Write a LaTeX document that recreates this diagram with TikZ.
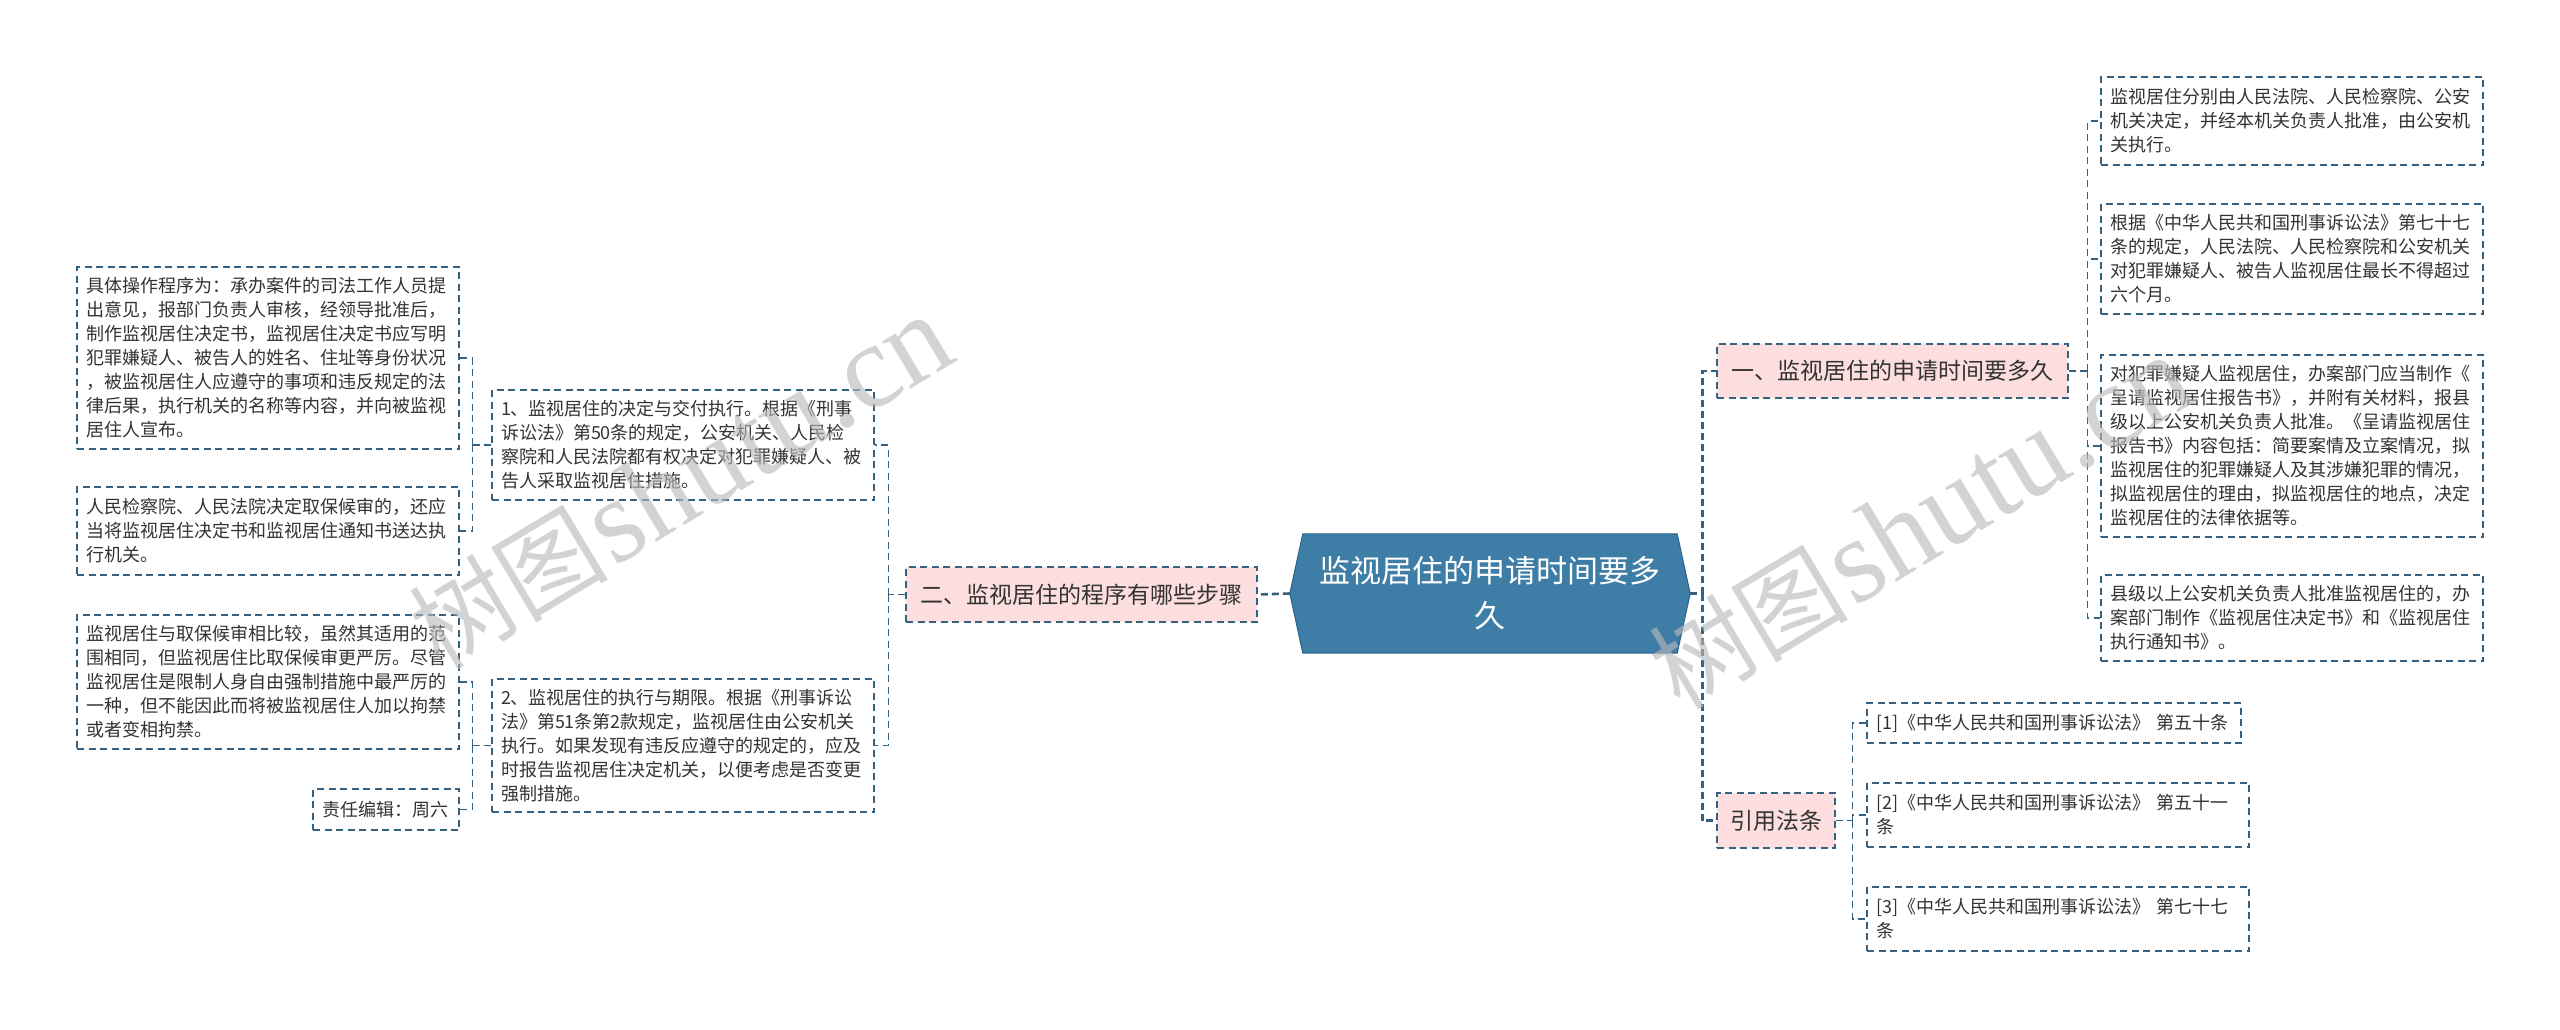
\documentclass[tikz,border=0pt]{standalone}
\usepackage{fontspec}
\usetikzlibrary{calc}
\newfontfamily\cjk{Noto Sans CJK SC}
\newfontfamily\wmserif{Liberation Serif}
\definecolor{linec}{RGB}{52,98,128}
\definecolor{pinkf}{RGB}{252,222,222}
\definecolor{cenf}{RGB}{62,125,166}
\definecolor{cend}{RGB}{45,100,140}
\definecolor{wmc}{RGB}{185,185,185}
\definecolor{txt}{RGB}{51,51,51}
\begin{document}
\begin{tikzpicture}[x=1pt,y=-1pt,
  leaf/.style={draw=linec, line width=1.4pt, dash pattern=on 7pt off 4.5pt, fill=white,
    inner xsep=9pt, inner ysep=0pt, align=left, text=txt,
    font=\cjk\fontsize{18}{24}\selectfont},
  branch/.style={draw=linec, line width=1.4pt, dash pattern=on 7pt off 4.5pt, fill=pinkf,
    inner xsep=12pt, inner ysep=0pt, text=txt, font=\cjk\fontsize{23}{28}\selectfont},
  conn/.style={draw=linec, line width=1.4pt, dash pattern=on 7pt off 4.5pt},
  mainconn/.style={draw=linec, line width=2.6pt, dash pattern=on 7pt off 4pt},
  wmark/.style={text=wmc, opacity=0.62, rotate=31, anchor=base west, inner sep=0pt}]
\useasboundingbox (0,0) rectangle (2560,1029);
\fill[white] (0,0) rectangle (2560,1029);

% central node
\node[minimum width=400pt, minimum height=119pt, inner sep=0pt] (C) at (1490,593.5) {};
\filldraw[fill=cenf, draw=cend, line width=1pt]
  ($(C.north west)+(13,0)$) -- ($(C.north east)+(-13,0)$) -- (C.east)
  -- ($(C.south east)+(-13,0)$) -- ($(C.south west)+(13,0)$) -- (C.west) -- cycle;
\node[align=center, text=white, font=\cjk\fontsize{31}{45}\selectfont, inner sep=0pt] (Ct) at (C.center)
  {监视居住的申请时间要多\\久};

% branches
\node[branch, minimum width=351pt, minimum height=55pt] (L) at (1081.5,594.5) {二、监视居住的程序有哪些步骤};
\node[branch, minimum width=351pt, minimum height=54pt] (R) at (1892.5,371) {一、监视居住的申请时间要多久};
\node[branch, minimum width=118pt, minimum height=55pt] (Y) at (1776,820.5) {引用法条};

% left level 2
\node[leaf, minimum width=382pt, minimum height=110pt, text width=364pt] (b1) at (683,445)
  {1、监视居住的决定与交付执行。根据《刑事\\诉讼法》第50条的规定，公安机关、人民检\\察院和人民法院都有权决定对犯罪嫌疑人、被\\告人采取监视居住措施。};
\node[leaf, minimum width=382pt, minimum height=133pt, text width=364pt] (b2) at (683,745.5)
  {2、监视居住的执行与期限。根据《刑事诉讼\\法》第51条第2款规定，监视居住由公安机关\\执行。如果发现有违反应遵守的规定的，应及\\时报告监视居住决定机关，以便考虑是否变更\\强制措施。};

% left level 3
\node[leaf, minimum width=382pt, minimum height=182pt, text width=364pt] (A) at (268,358)
  {具体操作程序为：承办案件的司法工作人员提\\出意见，报部门负责人审核，经领导批准后，\\制作监视居住决定书，监视居住决定书应写明\\犯罪嫌疑人、被告人的姓名、住址等身份状况\\，被监视居住人应遵守的事项和违反规定的法\\律后果，执行机关的名称等内容，并向被监视\\居住人宣布。};
\node[leaf, minimum width=382pt, minimum height=88pt, text width=364pt] (B) at (268,531)
  {人民检察院、人民法院决定取保候审的，还应\\当将监视居住决定书和监视居住通知书送达执\\行机关。};
\node[leaf, minimum width=382pt, minimum height=134pt, text width=364pt] (CC) at (268,682)
  {监视居住与取保候审相比较，虽然其适用的范\\围相同，但监视居住比取保候审更严厉。尽管\\监视居住是限制人身自由强制措施中最严厉的\\一种，但不能因此而将被监视居住人加以拘禁\\或者变相拘禁。};
\node[leaf, minimum width=146pt, minimum height=41pt, text width=128pt] (D) at (386,809.5)
  {责任编辑：周六};

% right children of R
\node[leaf, minimum width=382pt, minimum height=88pt, text width=364pt] (r1) at (2292,121)
  {监视居住分别由人民法院、人民检察院、公安\\机关决定，并经本机关负责人批准，由公安机\\关执行。};
\node[leaf, minimum width=382pt, minimum height=110pt, text width=364pt] (r2) at (2292,259)
  {根据《中华人民共和国刑事诉讼法》第七十七\\条的规定，人民法院、人民检察院和公安机关\\对犯罪嫌疑人、被告人监视居住最长不得超过\\六个月。};
\node[leaf, minimum width=382pt, minimum height=182pt, text width=364pt] (r3) at (2292,446)
  {对犯罪嫌疑人监视居住，办案部门应当制作《\\呈请监视居住报告书》，并附有关材料，报县\\级以上公安机关负责人批准。《呈请监视居住\\报告书》内容包括：简要案情及立案情况，拟\\监视居住的犯罪嫌疑人及其涉嫌犯罪的情况，\\拟监视居住的理由，拟监视居住的地点，决定\\监视居住的法律依据等。};
\node[leaf, minimum width=382pt, minimum height=86pt, text width=364pt] (r4) at (2292,618)
  {县级以上公安机关负责人批准监视居住的，办\\案部门制作《监视居住决定书》和《监视居住\\执行通知书》。};

% right children of Y
\node[leaf, minimum width=374pt, minimum height=40pt, text width=356pt] (l1) at (2054,723)
  {[1]《中华人民共和国刑事诉讼法》 第五十条};
\node[leaf, minimum width=382pt, minimum height=64pt, text width=364pt] (l2) at (2058,815)
  {[2]《中华人民共和国刑事诉讼法》 第五十一\\条};
\node[leaf, minimum width=382pt, minimum height=64pt, text width=364pt] (l3) at (2058,919)
  {[3]《中华人民共和国刑事诉讼法》 第七十七\\条};

% connectors: centre to branches
\draw[mainconn] (C.west) -- (L.east);
\draw[mainconn] (C.east) -- ++(12,0) coordinate (v2);
\draw[mainconn] (v2) |- (R.west);
\draw[mainconn] (v2) |- (Y.west);

% left side
\draw[conn] (L.west) -- ++(-17,0) coordinate (v0);
\draw[conn] (v0) |- (b1.east);
\draw[conn] (v0) |- (b2.east);
\draw[conn] (b1.west) -- ++(-19,0) coordinate (v1);
\draw[conn] (v1) |- (A.east);
\draw[conn] (v1) |- (B.east);
\draw[conn] (b2.west) -- ++(-19,0) coordinate (v5);
\draw[conn] (v5) |- (CC.east);
\draw[conn] (v5) |- (D.east);

% right side
\draw[conn] (R.east) -- ++(19,0) coordinate (v3);
\draw[conn] (v3) |- (r1.west);
\draw[conn] (v3) |- (r2.west);
\draw[conn] (v3) |- (r3.west);
\draw[conn] (v3) |- (r4.west);
\draw[conn] (Y.east) -- ++(17,0) coordinate (v4);
\draw[conn] (v4) |- (l1.west);
\draw[conn] (v4) |- (l2.west);
\draw[conn] (v4) |- (l3.west);

% watermarks
\node[wmark] (wm1) at (440,672) {{\cjk\fontsize{100}{100}\selectfont 树图} {\wmserif\fontsize{120}{120}\selectfont shutu.cn}};
\node[wmark] (wm2) at (1680,712) {{\cjk\fontsize{100}{100}\selectfont 树图} {\wmserif\fontsize{120}{120}\selectfont shutu.cn}};
\end{tikzpicture}
\end{document}
